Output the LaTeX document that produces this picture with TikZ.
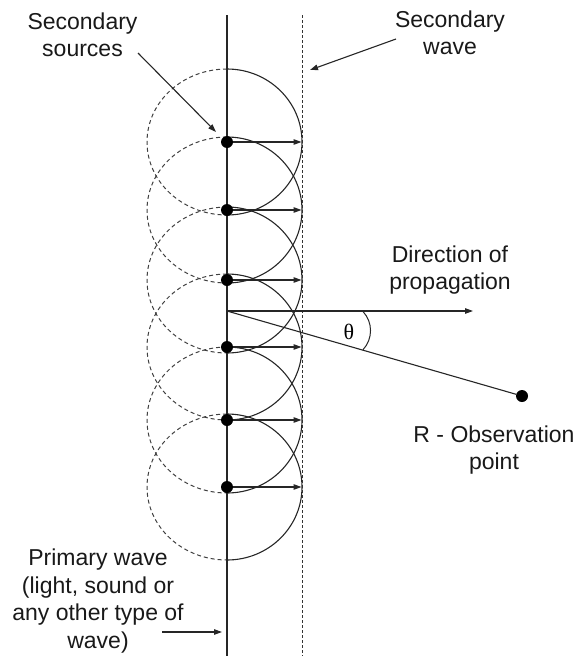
\documentclass[tikz,border=0pt]{standalone}
\usepackage{fontspec}
\setmainfont{Liberation Sans}
\newfontfamily\grkfont{Liberation Serif}
\usetikzlibrary{arrows.meta}
\begin{document}
\begin{tikzpicture}[x=1pt,y=-1pt,
  ln/.style={draw=black!85,line width=1.1pt},
  arr/.style={ln,-{Triangle[length=8pt,width=5.5pt]}},
  src/.style={circle,fill=black,inner sep=0pt,minimum size=12pt},
  lbl/.style={align=center,inner sep=0pt,font=\fontsize{23}{27.5}\selectfont,text=black!90},
  dsh/.style={draw=black!75,line width=1pt,dash pattern=on 4pt off 3pt},
  fdsh/.style={draw=black!80,line width=0.9pt,dash pattern=on 3pt off 2pt},
]
\useasboundingbox (0,0) rectangle (576,656);
% wavelets
\foreach \y in {142,210,280,347,420,487}{
  \draw[ln] (227,{\y-73}) arc[start angle=-90,end angle=90,x radius=75,y radius=73];
  \draw[dsh] (227,{\y-73}) arc[start angle=-90,end angle=-270,x radius=80,y radius=73];
}
% primary and secondary wave fronts
\coordinate (ltop) at (227,15);
\coordinate (lbot) at (227,656);
\coordinate (dtop) at (302,15);
\coordinate (dbot) at (302,656);
\draw[ln] (ltop) -- (lbot);
\draw[fdsh] (dtop) -- (dbot);
% sources and their rays
\foreach \y [count=\i] in {142,210,280,347,420,487}{
  \node[src] (s\i) at (227,\y) {};
  \coordinate (w\i) at (301.5,\y);
  \draw[arr] (s\i) -- (w\i);
}
% propagation and observation
\coordinate (o) at (227,311);
\coordinate (pe) at (473,311);
\node[src] (R) at (522,396) {};
\draw[arr] (o) -- (pe);
\draw[ln] (o) -- (R);
\draw[ln,line width=1pt] (363,311.5) arc[start angle=-43,end angle=43,radius=28];
\node[font=\grkfont\fontsize{22}{26}\selectfont,inner sep=0pt] (th) at (349,332) {θ};
% labels
\node[lbl] (tss) at (82.5,34.6) {Secondary\\sources};
\node[lbl] (tsw) at (450,32.6) {Secondary\\wave};
\node[lbl] (tdp) at (450,270) {Direction of\\propagation};
\node[lbl] (tro) at (494,450) {R - Observation\\point};
\node[lbl] (tpw) at (98,601) {Primary wave\\(light, sound or\\any other type of\\wave)};
% label arrows
\coordinate (a1s) at (138,53);
\coordinate (a1e) at (216,132);
\draw[arr] (a1s) -- (a1e);
\coordinate (a2s) at (396,39);
\coordinate (a2e) at (310,70);
\draw[arr] (a2s) -- (a2e);
\coordinate (a3s) at (162,632);
\coordinate (a3e) at (222,632);
\draw[arr] (a3s) -- (a3e);
\end{tikzpicture}
\end{document}
